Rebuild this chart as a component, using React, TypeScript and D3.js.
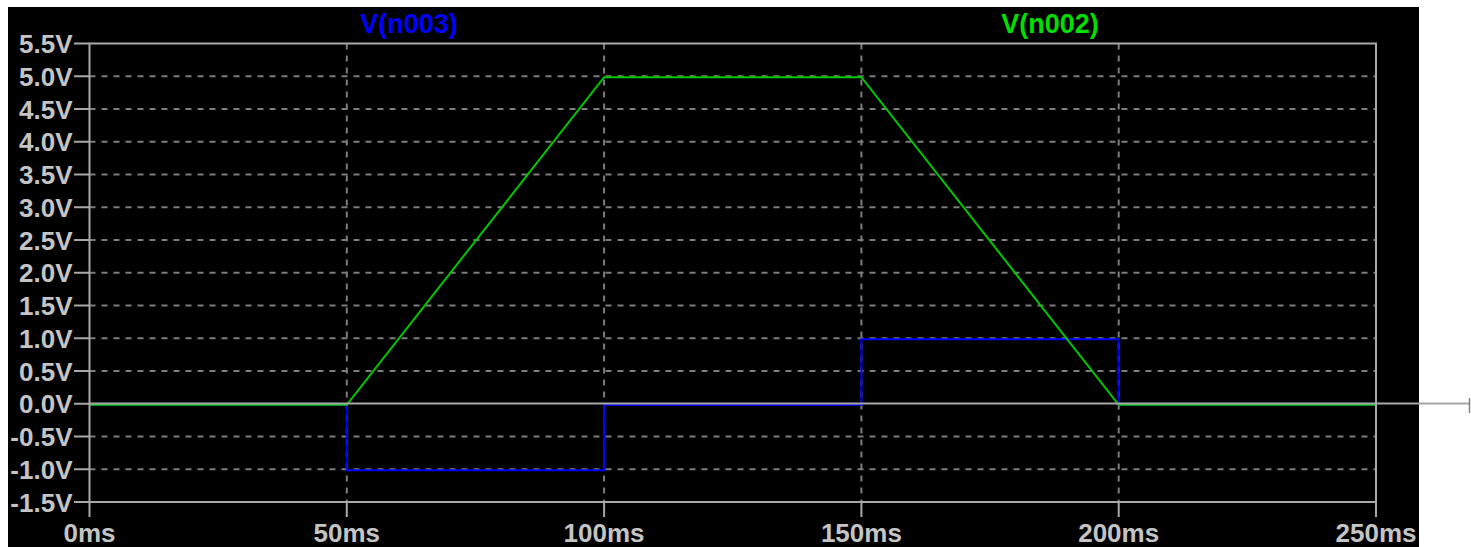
import React from "react";
import * as d3 from "d3";

// ---- data ----
const xTicksMs = [0, 50, 100, 150, 200, 250];
const yTicksV = [-1.5, -1.0, -0.5, 0.0, 0.5, 1.0, 1.5, 2.0, 2.5, 3.0, 3.5, 4.0, 4.5, 5.0, 5.5];

const n002Time = [0, 50, 100, 150, 200, 250];
const n002Volt = [0, 0, 5, 5, 0, 0];

const n003Time = [0, 50, 50, 100, 100, 150, 150, 200, 200, 250];
const n003Volt = [0, 0, -1, -1, 0, 0, 1, 1, 0, 0];

const seriesNames = ["V(n003)", "V(n002)"];

const W = 1471;
const H = 547;

export default function App() {
  const x = d3.scaleLinear().domain([0, 250]).range([89.5, 1376]);
  const y = d3.scaleLinear().domain([-1.5, 5.5]).range([502, 43.5]);

  const line = d3
    .line<[number, number]>()
    .x((d) => x(d[0]))
    .y((d) => y(d[1]) + 1);

  const n002 = n002Time.map((t, i) => [t, n002Volt[i]] as [number, number]);
  const n003 = n003Time.map((t, i) => [t, n003Volt[i]] as [number, number]);

  const font = "'Liberation Sans', Arial, sans-serif";
  const labelColor = "#c4c4c4";
  const frameColor = "#a8a8a8";
  const gridColor = "#7c7c7c";

  const x0 = x(0), x1 = x(250), yTop = y(5.5), yBot = y(-1.5);

  return (
    <svg width={W} height={H} style={{ display: "block", position: "absolute", left: 0, top: 0 }}>
      <rect x={8} y={7} width={1411} height={540} fill="#000" />
      {/* grid horizontal */}
      {yTicksV.filter((v) => v !== -1.5 && v !== 5.5 && v !== 0).map((v) => (
        <line key={"gh" + v} x1={x0} x2={x1} y1={y(v)} y2={y(v)} stroke={gridColor}
          strokeWidth={2} strokeDasharray="6 6" />
      ))}
      {/* grid vertical */}
      {xTicksMs.filter((t) => t !== 0 && t !== 250).map((t) => (
        <line key={"gv" + t} x1={x(t)} x2={x(t)} y1={yTop} y2={yBot} stroke={gridColor}
          strokeWidth={2} strokeDasharray="6 6" />
      ))}
      {/* traces */}
      <path d={line(n003) || ""} fill="none" stroke="#0000ff" strokeWidth={2} />
      <path d={line(n002) || ""} fill="none" stroke="#00c800" strokeWidth={2} />
      {/* zero line, extends out past the plot */}
      <line x1={x0} x2={1470} y1={y(0) - 0.3} y2={y(0) - 0.3} stroke={frameColor} strokeWidth={2} />
      <line x1={1469.5} x2={1469.5} y1={398} y2={413} stroke="#808080" strokeWidth={1.5} />
      {/* frame */}
      <rect x={x0} y={yTop} width={x1 - x0} height={yBot - yTop} fill="none" stroke={frameColor} strokeWidth={2} />
      {/* y ticks and labels */}
      {yTicksV.map((v) => (
        <g key={"yt" + v}>
          <line x1={74} x2={x0} y1={y(v)} y2={y(v)} stroke={frameColor} strokeWidth={2} />
          <text x={72.5} y={y(v) + 9.5} textAnchor="end" fill={labelColor} fontFamily={font}
            fontWeight="bold" fontSize={26}>
            {v.toFixed(1) + "V"}
          </text>
        </g>
      ))}
      {/* x ticks and labels */}
      {xTicksMs.map((t) => (
        <g key={"xt" + t}>
          <line x1={x(t)} x2={x(t)} y1={yBot} y2={517} stroke={frameColor} strokeWidth={2} />
          <text x={x(t)} y={542} textAnchor="middle" fill={labelColor} fontFamily={font}
            fontWeight="bold" fontSize={26}>
            {t + "ms"}
          </text>
        </g>
      ))}
      {/* legend */}
      <text x={409} y={33} textAnchor="middle" fill="#0000ff" fontFamily={font} fontWeight="bold" fontSize={27}>
        {seriesNames[0]}
      </text>
      <text x={1050} y={33} textAnchor="middle" fill="#00e000" fontFamily={font} fontWeight="bold" fontSize={27}>
        {seriesNames[1]}
      </text>
    </svg>
  );
}
